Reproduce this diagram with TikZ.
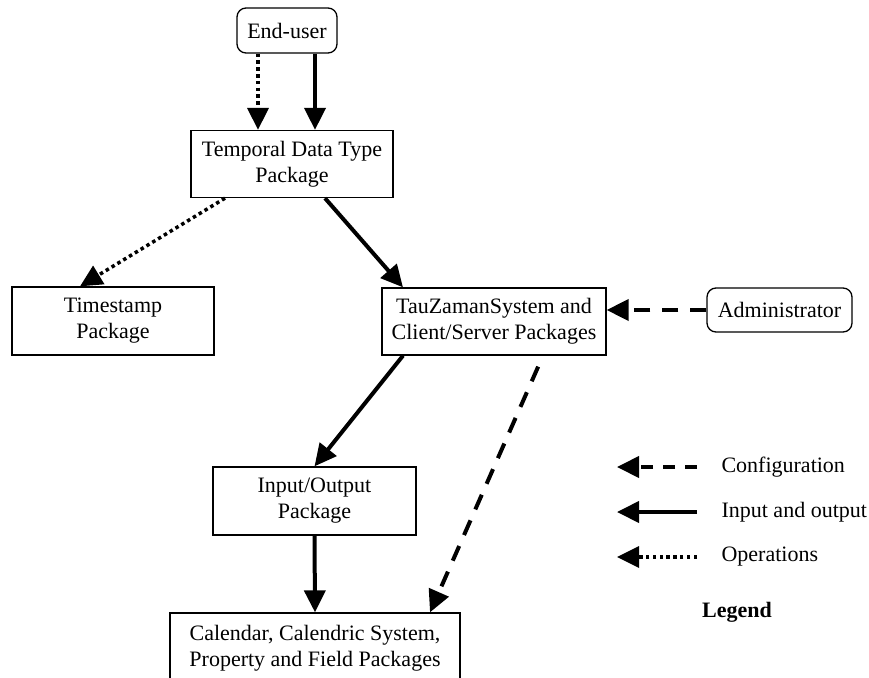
\documentclass[tikz,border=0pt]{standalone}
\usepackage{fontspec}
\setmainfont{Liberation Serif}
\usetikzlibrary{arrows.meta,calc}

\tikzset{
  box/.style={draw, line width=1.3pt, align=center, inner sep=0pt,
    font=\fontsize{22}{26}\selectfont},
  actor/.style={box, rounded corners=9pt},
  tip/.style={-{Triangle[length=22pt,width=21pt]}},
  io/.style={tip, line width=4pt},
  ops/.style={tip, line width=3.5pt, dash pattern=on 3.5pt off 3.3pt},
  cfg/.style={tip, line width=4pt, dash pattern=on 16pt off 12pt},
  legtext/.style={anchor=west, font=\fontsize{22}{26}\selectfont}
}

\begin{document}
\begin{tikzpicture}[x=1pt,y=-1pt]
\useasboundingbox (0,0) rectangle (869,677);
\clip (0,0) rectangle (869,677);

% components
\node[actor, minimum width=100pt, minimum height=45pt] (eu) at (287,30.5) {End-user};
\node[box, minimum width=202pt, minimum height=67pt] (tdt) at (292,164) {Temporal Data Type\\Package};
\node[box, minimum width=202pt, minimum height=68pt] (ts) at (113,321) {Timestamp\\Package};
\node[box, minimum width=224pt, minimum height=67pt] (tz) at (494,321.5) {TauZamanSystem and\\Client/Server Packages};
\node[actor, minimum width=145pt, minimum height=44pt] (adm) at (779.5,310) {Administrator};
\node[box, minimum width=203pt, minimum height=68pt] (iop) at (314.5,501) {Input/Output\\Package};
\node[box, minimum width=290pt, minimum height=70pt] (cal) at (315,648) {Calendar, Calendric System,\\Property and Field Packages};

% flows
\draw[ops] ($(eu.south)+(-29,0)$) -- ($(tdt.north)+(-34,0)$);
\draw[io]  ($(eu.south)+(28,0)$) -- ($(tdt.north)+(23,0)$);
\draw[ops] ($(tdt.south)+(-67,0)$) -- ($(ts.north)+(-33,0)$);
\draw[io]  ($(tdt.south)+(33,0)$) -- ($(tz.north)+(-91,0)$);
\draw[cfg] (adm.west) -- (tz.east |- adm.west);
\draw[io]  ($(tz.south)+(-91,0)$) -- (iop.north);
\draw[cfg, shorten <=12pt] ($(tz.south)+(49,0)$) -- ($(cal.north)+(115,0)$);
\draw[io]  (iop.south) -- (cal.north);

% legend
\coordinate (c1) at (697,467);
\coordinate (c0) at (617,467);
\coordinate (i1) at (697,512);
\coordinate (i0) at (617,512);
\coordinate (o1) at (697,557);
\coordinate (o0) at (617,557);
\draw[cfg, dash pattern=on 12pt off 10pt] (c1) -- (c0);
\draw[io] (i1) -- (i0);
\draw[ops] (o1) -- (o0);
\node[legtext] (lc) at (718,467) {Configuration};
\node[legtext] (li) at (718,512) {Input and output};
\node[legtext] (lo) at (718,557) {Operations};
\node[font=\fontsize{22}{26}\selectfont\bfseries] (lg) at (737,612) {Legend};
\end{tikzpicture}
\end{document}
